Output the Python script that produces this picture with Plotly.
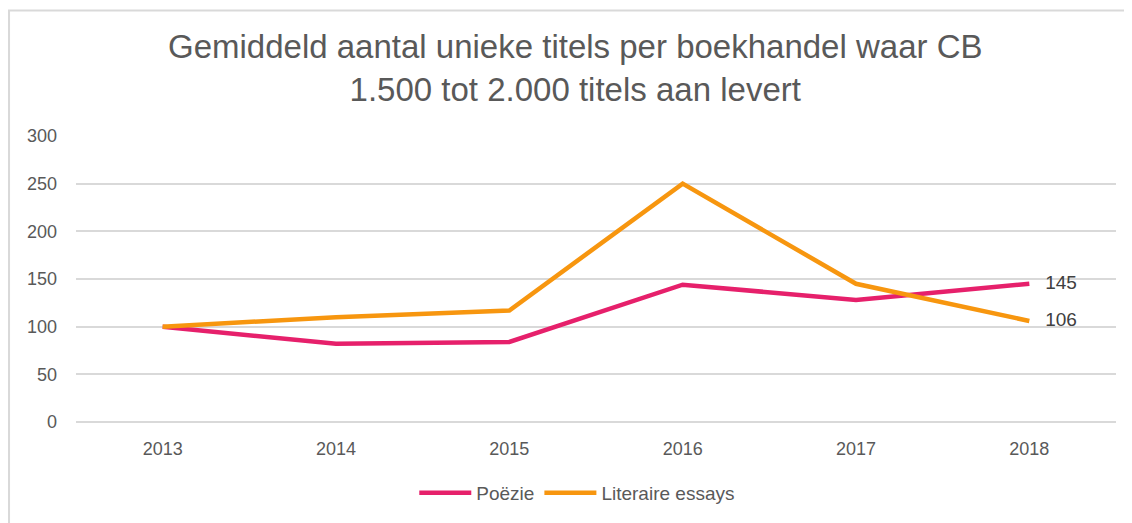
import plotly.graph_objects as go

years = ["2013", "2014", "2015", "2016", "2017", "2018"]
poezie = [100, 82, 84, 144, 128, 145]
essays = [100, 110, 117, 250, 145, 106]
names = ["Poëzie", "Literaire essays"]
colors = ["#E6206B", "#F7960F"]
title_text = "Gemiddeld aantal unieke titels per boekhandel waar CB<br>1.500 tot 2.000 titels aan levert"

fig = go.Figure()
for name, vals, col in zip(names, [poezie, essays], colors):
    labels = [""] * (len(vals) - 1) + ["   " + str(vals[-1])]
    fig.add_trace(go.Scatter(
        x=years, y=vals, name=name, mode="lines+text",
        line=dict(color=col, width=4.5),
        text=labels, textposition="middle right",
        textfont=dict(size=19, color="#404040", family="Liberation Sans, Arial"),
        cliponaxis=False,
    ))

fig.update_layout(
    width=1132, height=523,
    margin=dict(l=68, r=24, t=128, b=109, autoexpand=False),
    paper_bgcolor="white", plot_bgcolor="white",
    font=dict(family="Liberation Sans, Arial", color="#595959", size=18),
    xaxis=dict(type="category", range=[-0.5, 5.5], showgrid=False,
               showline=False, ticks="", ticklabelstandoff=14,
               tickfont=dict(size=18, color="#595959")),
    yaxis=dict(range=[0, 300], dtick=50, showgrid=True, gridcolor="#D9D9D9",
               gridwidth=1.5, zeroline=True, zerolinecolor="#D9D9D9", zerolinewidth=1.5,
               ticklabelstandoff=18,
               tickfont=dict(size=18, color="#595959")),
    legend=dict(orientation="h", x=0.482, xanchor="center", y=-0.248, yanchor="middle",
                itemwidth=52, font=dict(size=19, color="#595959")),
    showlegend=True,
)
fig.add_annotation(text=title_text, xref="paper", yref="paper", x=0.48, y=1.2395,
                   xanchor="center", yanchor="middle", showarrow=False,
                   font=dict(size=33, color="#595959"))
fig.add_shape(type="rect", xref="paper", yref="paper",
              x0=-0.0644, x1=1.2, y0=-0.6, y1=1.4388,
              line=dict(color="#D9D9D9", width=2), layer="below")

fig.write_html("out.html")
